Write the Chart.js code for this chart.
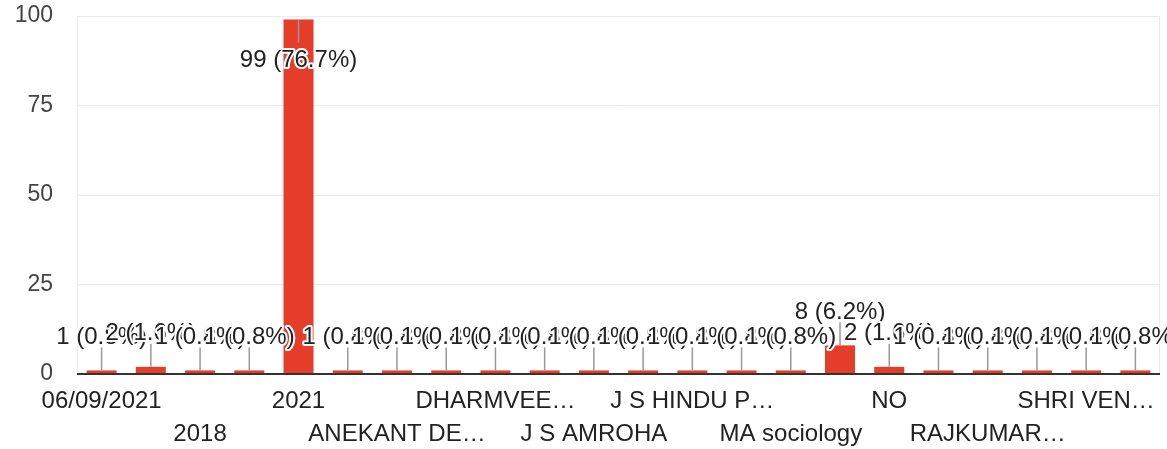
<!DOCTYPE html>
<html>
<head>
<meta charset="utf-8">
<script src="https://cdn.jsdelivr.net/npm/chart.js@4.4.1/dist/chart.umd.min.js"></script>
<style>
    html, body { margin: 0; padding: 0; background: #fff; }
    #wrap { width: 1167px; height: 449px; position: relative; }
</style>
</head>
<body>
<div id="wrap"><canvas id="answerChart"></canvas></div>
<script>
// answers (hidden labels between the shown ones are guesses)
const categories = [
    '06/09/2021', '2017', '2018', '2020', '2021', '2022',
    'ANEKANT DE…', 'B.A', 'DHARMVEE…', 'IGNOU', 'J S AMROHA', 'J S H P G…',
    'J S HINDU P…', 'JS HINDU…', 'MA sociology', 'NA', 'NO', 'Nil',
    'RAJKUMAR…', 'S S COLLE…', 'SHRI VEN…', 'YES'
];
const counts = [1, 2, 1, 1, 99, 1, 1, 1, 1, 1, 1, 1, 1, 1, 1, 8, 2, 1, 1, 1, 1, 1];
const yTicks = [0, 25, 50, 75, 100];

const total = counts.reduce(function (a, b) { return a + b; }, 0);
const FONT = '"Liberation Sans", Arial, sans-serif';

// light frame round the plot area
const framePlugin = {
    id: 'frame',
    beforeDatasetsDraw: function (chart) {
        const a = chart.chartArea;
        const ctx = chart.ctx;
        ctx.save();
        ctx.strokeStyle = '#ebebeb';
        ctx.lineWidth = 1;
        ctx.beginPath();
        ctx.moveTo(a.left + 0.5, a.top);
        ctx.lineTo(a.left + 0.5, a.bottom);
        ctx.moveTo(a.right - 0.5, a.top);
        ctx.lineTo(a.right - 0.5, a.bottom);
        ctx.stroke();
        ctx.restore();
    },
    afterDatasetsDraw: function (chart) {
        // dark baseline
        const a = chart.chartArea;
        const y0 = chart.scales.y.getPixelForValue(0);
        const ctx = chart.ctx;
        ctx.save();
        ctx.strokeStyle = '#333333';
        ctx.lineWidth = 2;
        ctx.beginPath();
        ctx.moveTo(a.left, y0);
        ctx.lineTo(a.right, y0);
        ctx.stroke();
        ctx.restore();
    }
};

// "n (p%)" labels with leader lines, white halo
const labelPlugin = {
    id: 'valueLabels',
    afterDraw: function (chart) {
        const ctx = chart.ctx;
        const meta = chart.getDatasetMeta(0);
        const top = chart.chartArea.top;
        ctx.save();
        ctx.font = '24px ' + FONT;
        ctx.textAlign = 'center';
        ctx.textBaseline = 'middle';
        ctx.lineJoin = 'round';
        meta.data.forEach(function (bar, i) {
            const v = counts[i];
            const txt = v + ' (' + (v / total * 100).toFixed(1) + '%)';
            let lineEnd, textY;
            if (bar.y - 40 < top) {
                // no room above: put it inside the bar
                lineEnd = bar.y + 23;
                textY = bar.y + 41;
            } else {
                lineEnd = bar.y - 23;
                textY = bar.y - 33;
            }
            ctx.strokeStyle = '#999999';
            ctx.lineWidth = 1.5;
            ctx.beginPath();
            ctx.moveTo(bar.x, bar.y);
            ctx.lineTo(bar.x, lineEnd);
            ctx.stroke();

            ctx.strokeStyle = '#ffffff';
            ctx.lineWidth = 4;
            ctx.strokeText(txt, bar.x, textY);
            ctx.fillStyle = '#222222';
            ctx.fillText(txt, bar.x, textY);
        });
        ctx.restore();
    }
};

new Chart(document.getElementById('answerChart'), {
    type: 'bar',
    data: {
        labels: categories,
        datasets: [{
            data: counts,
            backgroundColor: '#e43e2b',
            borderWidth: 0,
            barPercentage: 0.61,
            categoryPercentage: 1.0
        }]
    },
    options: {
        responsive: true,
        maintainAspectRatio: false,
        animation: false,
        layout: { padding: { top: 16, right: 7, left: 0, bottom: 0 } },
        plugins: {
            legend: { display: false },
            tooltip: { enabled: false }
        },
        scales: {
            x: {
                grid: { display: false, drawTicks: false },
                border: { display: false },
                ticks: {
                    autoSkip: false,
                    maxRotation: 0,
                    minRotation: 0,
                    padding: 11,
                    color: '#222222',
                    font: { family: FONT, size: 24, lineHeight: 1.38 },
                    callback: function (value, index) {
                        // every other label, staggered over two rows
                        if (index % 2 === 1) return '';
                        if (index % 4 === 2) return ['', categories[index]];
                        return categories[index];
                    }
                },
                afterFit: function (scale) {
                    scale.height = 75;
                    scale.paddingLeft = 0;
                    scale.paddingRight = 0;
                }
            },
            y: {
                min: 0,
                max: 100,
                afterBuildTicks: function (scale) {
                    scale.ticks = yTicks.map(function (v) { return { value: v }; });
                },
                grid: { color: '#ebebeb', lineWidth: 1, drawTicks: false },
                border: { display: false },
                ticks: {
                    padding: 24,
                    color: '#444444',
                    font: { family: FONT, size: 23 }
                },
                afterFit: function (scale) {
                    scale.width = 77;
                    scale.paddingTop = 0;
                    scale.paddingBottom = 0;
                }
            }
        }
    },
    plugins: [framePlugin, labelPlugin]
});
</script>
</body>
</html>
